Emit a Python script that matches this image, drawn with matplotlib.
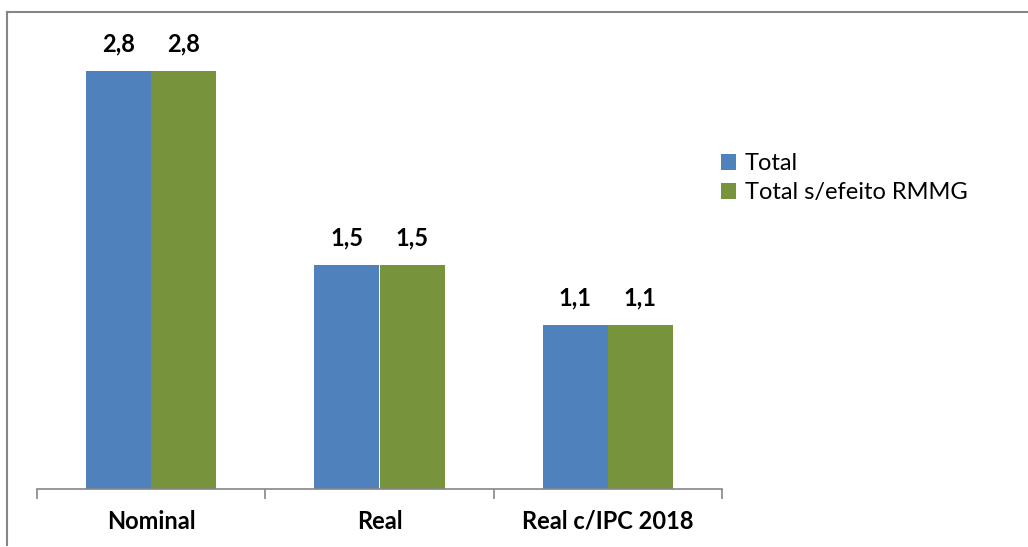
import numpy as np
import matplotlib
matplotlib.use("Agg")
import matplotlib.pyplot as plt
from matplotlib.lines import Line2D

categories = ["Nominal", "Real", "Real c/IPC 2018"]
total = [2.8, 1.5, 1.1]
total_sem_rmmg = [2.8, 1.5, 1.1]
series_names = ["Total", "Total s/efeito RMMG"]
colors = ["#4f81bd", "#77933c"]

plt.rcParams['font.family'] = ['Lato', 'DejaVu Sans']

W, H = 1028, 547
fig = plt.figure(figsize=(W / 100, H / 100), dpi=100)

# chart frame: only top and left edges show in the crop
edge = "#868686"
fig.add_artist(Line2D([7 / W, 1], [1 - 12 / H, 1 - 12 / H], transform=fig.transFigure,
                      color=edge, linewidth=1.5))
fig.add_artist(Line2D([7 / W, 7 / W], [1 - 12 / H, 1 - 545 / H], transform=fig.transFigure,
                      color=edge, linewidth=1.5))

ax = fig.add_axes([37 / W, 1 - 489 / H, (722 - 37) / W, (489 - 11) / H])

x = np.arange(len(categories))
w = 0.285
b1 = ax.bar(x - w / 2, total, w, color=colors[0], label=series_names[0])
b2 = ax.bar(x + w / 2, total_sem_rmmg, w, color=colors[1], label=series_names[1])

for bars in (b1, b2):
    for r in bars:
        v = r.get_height()
        ax.annotate(f"{v:.1f}".replace(".", ","), (r.get_x() + r.get_width() / 2, v),
                    xytext=(0, 11), textcoords="offset points", ha="center", va="bottom",
                    fontsize=17, fontweight="bold")

ax.set_xlim(-0.5, len(categories) - 0.5)
ax.set_ylim(0, 3.2)
ax.set_yticks([])
for s in ["top", "right", "left"]:
    ax.spines[s].set_visible(False)
ax.spines["bottom"].set_color(edge)
ax.spines["bottom"].set_linewidth(1.2)

ax.set_xticks(x)
ax.set_xticklabels(categories, fontsize=17, fontweight="bold")
ax.tick_params(axis="x", which="major", length=0, pad=15)
ax.set_xticks(np.arange(-0.5, len(categories), 1.0), minor=True)
ax.tick_params(axis="x", which="minor", length=7, color=edge, width=1.2)

fig.legend(handles=[b1, b2], labels=series_names, loc="upper left",
           bbox_to_anchor=(721 / W, 1 - 153 / H), frameon=False, fontsize=17,
           handlelength=0.65, handleheight=0.65, handletextpad=0.35, labelspacing=0.35,
           borderpad=0, borderaxespad=0)

fig.savefig("out.png", dpi=100)
